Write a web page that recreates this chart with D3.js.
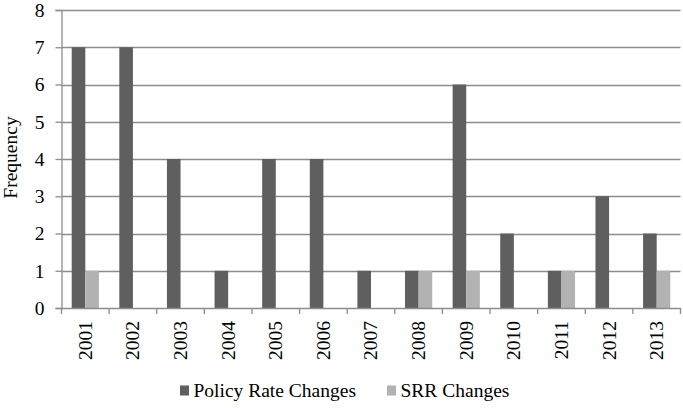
<!DOCTYPE html>
<html><head><meta charset="utf-8">
<script src="https://cdn.jsdelivr.net/npm/d3@7"></script>
<style>body{margin:0;background:#fff;}svg{display:block;}</style>
</head><body>
<svg id="c" width="683" height="408"></svg>
<script>
const years = ["2001","2002","2003","2004","2005","2006","2007","2008","2009","2010","2011","2012","2013"];
const policyRate = [7,7,4,1,4,4,1,1,6,2,1,3,2];
const srr = [1,0,0,0,0,0,0,1,1,0,1,0,1];
const seriesNames = ["Policy Rate Changes","SRR Changes"];
const yTicks = [0,1,2,3,4,5,6,7,8];
const colors = ["#5f5f5f","#b2b2b2"];

(function(){
const svg = d3.select("#c");
const FONT = '"Liberation Serif", "Times New Roman", Tinos';
const fs = 19.5;
const mLeft = 61.5, mRight = 680.5, mTop = 10, mBottom = 308;
const x = d3.scaleBand().domain(years).range([mLeft, mRight]).paddingInner(0).paddingOuter(0);
const y = d3.scaleLinear().domain([0,8]).range([mBottom, mTop]);
const bw = x.bandwidth();
const barW = bw / 3.5;
const offset = (bw - 2*barW) / 2;

// gridlines
svg.append("g").selectAll("line").data(yTicks.filter(d=>d>0)).join("line")
  .attr("x1", mLeft).attr("x2", mRight)
  .attr("y1", d=>Math.round(y(d))+0.5).attr("y2", d=>Math.round(y(d))+0.5)
  .attr("stroke", "#8c8c8c").attr("stroke-width", 1.3);

// bars
const data = [policyRate, srr];
data.forEach((vals, si) => {
  svg.append("g").selectAll("rect").data(years).join("rect")
    .attr("x", d => x(d) + offset + si*barW)
    .attr("y", (d,i) => y(vals[i]))
    .attr("width", barW)
    .attr("height", (d,i) => y(0) - y(vals[i]))
    .attr("fill", colors[si]);
});

// y axis
const yAxis = d3.axisLeft(y).tickValues(yTicks).tickSize(6).tickPadding(11).tickFormat(d3.format("d"));
const gy = svg.append("g").attr("transform", `translate(${mLeft},0)`).call(yAxis);
gy.select(".domain").attr("stroke", "#8c8c8c").attr("stroke-width", 1.3);
gy.selectAll(".tick line").attr("stroke", "#8c8c8c").attr("stroke-width", 1.3);
gy.selectAll(".tick text").style("font-family", FONT).style("font-size", fs+"px").attr("fill", "#000");

// x axis
const xAxis = d3.axisBottom(x).tickSize(0).tickSizeOuter(0);
const gx = svg.append("g").attr("transform", `translate(0,${mBottom})`).call(xAxis);
gx.select(".domain").attr("stroke", "#8c8c8c").attr("stroke-width", 1.3);
gx.selectAll(".tick text")
  .style("font-family", FONT).style("font-size", fs+"px").attr("fill", "#000")
  .attr("transform", "rotate(-90)")
  .attr("text-anchor", "end").attr("x", -13).attr("y", 0).attr("dy", "0.33em");
// category boundary ticks
const bounds = years.map(d => x(d)).concat([mRight]);
svg.append("g").selectAll("line").data(bounds).join("line")
  .attr("x1", d=>d).attr("x2", d=>d).attr("y1", mBottom).attr("y2", mBottom+6)
  .attr("stroke", "#8c8c8c").attr("stroke-width", 1.3);

// y label
svg.append("text").attr("transform", `translate(17,157.5) rotate(-90)`)
  .attr("text-anchor", "middle").style("font-family", FONT).style("font-size", fs+"px").attr("fill", "#000")
  .text("Frequency");

// legend
const legX = [180, 387];
seriesNames.forEach((n, i) => {
  svg.append("rect").attr("x", legX[i]).attr("y", 385.5).attr("width", 9).attr("height", 10).attr("fill", colors[i]);
  svg.append("text").attr("x", legX[i] + 13.5).attr("y", 396.5)
    .style("font-family", FONT).style("font-size", fs+"px").attr("fill", "#000").text(n);
});
})();
</script>
</body></html>
